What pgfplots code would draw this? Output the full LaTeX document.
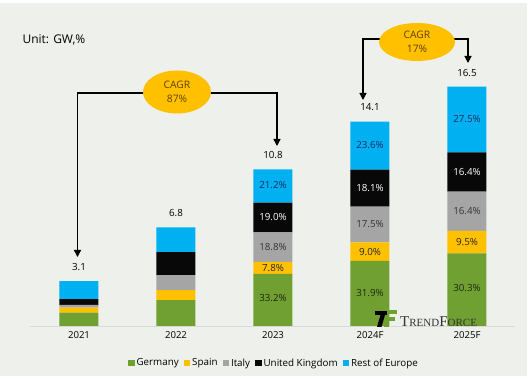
\documentclass[border=0pt]{standalone}
\usepackage{fontspec}
\setmainfont{Open Sans}
\newfontfamily\logofont{Liberation Serif}
\usepackage{pgfplots}
\pgfplotsset{compat=1.18}
\usetikzlibrary{arrows.meta}
\definecolor{bg}{RGB}{237,240,235}
\definecolor{cgreen}{RGB}{112,160,50}
\definecolor{cyellow}{RGB}{255,192,0}
\definecolor{cgray}{RGB}{165,165,165}
\definecolor{cblack}{RGB}{8,8,8}
\definecolor{cblue}{RGB}{0,176,240}
\definecolor{cagrtext}{RGB}{95,65,0}
\definecolor{bluetext}{RGB}{25,45,100}
\definecolor{greentext}{RGB}{30,40,20}
\tikzset{lbl/.style={font=\fontsize{9.8}{11}\selectfont}}
\begin{document}
\begin{tikzpicture}
\fill[white] (0pt,0pt) rectangle (531pt,379pt);
\fill[bg] (0pt,3pt) rectangle (527pt,376pt);
\begin{axis}[
  at={(30.5pt,53pt)}, anchor=south west, scale only axis,
  width=485pt, height=290pt,
  xmin=-0.5, xmax=4.5, ymin=0, ymax=20,
  ybar stacked, bar width=39pt,
  axis x line=bottom, axis y line=none,
  x axis line style={draw=black!15, line width=0.8pt, -},
  xtick={0,1,2,3,4}, xticklabels={2021,2022,2023,2024F,2025F},
  major tick length=0pt,
  xticklabel style={font=\fontsize{9.6}{11}\selectfont, yshift=-2pt},
  clip=false,
  legend columns=-1,
  legend style={draw=none, fill=none, at={(0.502,-0.128)}, anchor=center,
    font=\fontsize{9.8}{11}\selectfont,
    /tikz/every even column/.append style={column sep=3pt}},
  legend image code/.code={\fill[#1] (0pt,-3.2pt) rectangle (6.5pt,3.3pt);},
]
\addplot[fill=cgreen, draw=none] coordinates {(0,0.92) (1,1.79) (2,3.586) (3,4.498) (4,5.0)};
\addplot[fill=cyellow, draw=none] coordinates {(0,0.34) (1,0.69) (2,0.842) (3,1.269) (4,1.5675)};
\addplot[fill=cgray, draw=none] coordinates {(0,0.19) (1,1.03) (2,2.030) (3,2.4675) (4,2.706)};
\addplot[fill=cblack, draw=none] coordinates {(0,0.41) (1,1.59) (2,2.052) (3,2.552) (4,2.706)};
\addplot[fill=cblue, draw=none] coordinates {(0,1.24) (1,1.70) (2,2.290) (3,3.314) (4,4.5205)};
\legend{Germany,Spain,Italy,United Kingdom,Rest of Europe}
\coordinate (a1) at (axis cs:2,1.90);
\coordinate (a2) at (axis cs:2,4.007);
\coordinate (a3) at (axis cs:2,5.443);
\coordinate (a4) at (axis cs:2,7.484);
\coordinate (a5) at (axis cs:2,9.70);
\coordinate (b1) at (axis cs:3,2.30);
\coordinate (b2) at (axis cs:3,5.13);
\coordinate (b3) at (axis cs:3,7.0);
\coordinate (b4) at (axis cs:3,9.51);
\coordinate (b5) at (axis cs:3,12.45);
\coordinate (c1) at (axis cs:4,2.6);
\coordinate (c2) at (axis cs:4,5.78);
\coordinate (c3) at (axis cs:4,7.92);
\coordinate (c4) at (axis cs:4,10.63);
\coordinate (c5) at (axis cs:4,14.25);
\coordinate (t0) at (axis cs:0,3.1);
\coordinate (t1) at (axis cs:1,6.8);
\coordinate (t2) at (axis cs:2,10.8);
\coordinate (t3) at (axis cs:3,14.1);
\coordinate (t4) at (axis cs:4,16.5);
\end{axis}
\node[lbl,text=greentext] at (a1) {33.2\%};
\node[lbl,text=black!85] at (a2) {7.8\%};
\node[lbl,text=black!80] at (a3) {18.8\%};
\node[lbl,text=white] at (a4) {19.0\%};
\node[lbl,text=bluetext] at (a5) {21.2\%};
\node[lbl,text=greentext] at (b1) {31.9\%};
\node[lbl,text=black!85] at (b2) {9.0\%};
\node[lbl,text=black!80] at (b3) {17.5\%};
\node[lbl,text=white] at (b4) {18.1\%};
\node[lbl,text=bluetext] at (b5) {23.6\%};
\node[lbl,text=greentext] at (c1) {30.3\%};
\node[lbl,text=black!85] at (c2) {9.5\%};
\node[lbl,text=black!80] at (c3) {16.4\%};
\node[lbl,text=white] at (c4) {16.4\%};
\node[lbl,text=bluetext] at (c5) {27.5\%};
\node[lbl,yshift=14pt] at (t0) {3.1};
\node[lbl,yshift=14pt] at (t1) {6.8};
\node[lbl,yshift=14pt] at (t2) {10.8};
\node[lbl,yshift=14pt] at (t3) {14.1};
\node[lbl,yshift=14pt] at (t4) {16.5};
\node[anchor=west, font=\fontsize{12}{14}\selectfont] at (19pt,339pt) {Unit: GW,\%};
\tikzset{arr/.style={line width=1.3pt, black, -{Triangle[length=7pt,width=7pt]}}}
\draw[arr] (177pt,286pt) -| (77.5pt,122pt);
\draw[arr] (177pt,286pt) -| (277pt,233pt);
\fill[cyellow] (177pt,287pt) ellipse [x radius=34pt, y radius=21.5pt];
\node[align=center, text=cagrtext, font=\fontsize{10.3}{14.5}\selectfont] at (177pt,287pt) {CAGR\\87\%};
\draw[arr] (417pt,340pt) -| (363pt,279pt);
\draw[arr] (417pt,340pt) -| (468pt,316pt);
\fill[cyellow] (417pt,337pt) ellipse [x radius=38pt, y radius=19pt];
\node[align=center, text=cagrtext, font=\fontsize{10.3}{14.5}\selectfont] at (417pt,337pt) {CAGR\\17\%};
\fill[cgreen] (384pt,52pt) rectangle (388.5pt,69pt);
\fill[cgreen] (384pt,64.5pt) rectangle (397pt,69pt);
\fill[cgreen] (384pt,57.5pt) rectangle (395pt,61.5pt);
\fill[black] (375pt,64pt) rectangle (387pt,68pt);
\fill[black] (377pt,52pt) -- (381.5pt,52pt) -- (385pt,64pt) -- (380.5pt,64pt) -- cycle;
\node[anchor=base west, inner sep=0pt, text=black!80, font=\logofont] at (400pt,52pt)
  {{\fontsize{15}{15}\selectfont T}{\fontsize{11}{11}\selectfont REND}{\fontsize{15}{15}\selectfont F}{\fontsize{11}{11}\selectfont ORCE}};
\end{tikzpicture}
\end{document}
